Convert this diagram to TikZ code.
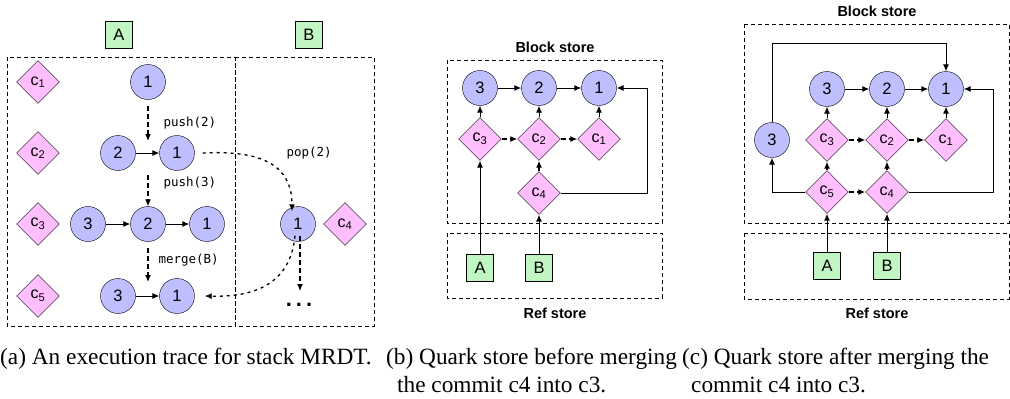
\documentclass[tikz,border=0pt]{standalone}
\usepackage{fontspec}
\setmainfont{Liberation Serif}
\setsansfont{Liberation Sans}
\setmonofont{DejaVu Sans Mono}
\usetikzlibrary{arrows.meta,shapes.geometric}
\definecolor{blockfill}{RGB}{191,191,255}
\definecolor{commitfill}{RGB}{255,191,255}
\definecolor{reffill}{RGB}{193,245,193}
\tikzset{
  blk/.style={circle,draw,fill=blockfill,minimum size=35pt,inner sep=0pt,
    font=\sffamily\fontsize{16.5}{16.5}\selectfont},
  cmt/.style={diamond,draw,fill=commitfill,minimum width=43pt,minimum height=43pt,
    inner sep=0pt,font=\sffamily\fontsize{16}{16}\selectfont},
  refbox/.style={rectangle,draw,fill=reffill,minimum size=27pt,inner sep=0pt,
    font=\sffamily\fontsize{16.5}{16.5}\selectfont},
  store/.style={draw,dash pattern=on 4pt off 3pt,line width=0.8pt},
  lnk/.style={-{Latex[length=7pt,width=6pt]},line width=1pt},
  dlnk/.style={lnk,dash pattern=on 5pt off 3pt,line width=1.2pt},
  trace/.style={lnk,dash pattern=on 3pt off 4pt,line width=1.3pt},
  oplabel/.style={font=\ttfamily\fontsize{12.5}{12.5}\selectfont,anchor=west},
  storetitle/.style={font=\sffamily\bfseries\fontsize{14.5}{14.5}\selectfont},
  capt/.style={font=\fontsize{23.3}{28}\selectfont,anchor=base west,align=left,inner sep=0pt},
}
\newcommand{\cm}[1]{c\textsubscript{#1}}

\begin{document}
\begin{tikzpicture}[x=1pt,y=-1pt]
  \useasboundingbox (0,0) rectangle (1010,399);

  % (a) execution trace
  \node[refbox] (aA) at (119,35) {A};
  \node[refbox] (aB) at (309,35) {B};
  \draw[store] (7,57) rectangle (235,326);
  \draw[store] (235,57) rectangle (374,326);
  \node[cmt] (ac1) at (38,82) {\cm{1}};
  \node[cmt] (ac2) at (38,153) {\cm{2}};
  \node[cmt] (ac3) at (38,224) {\cm{3}};
  \node[cmt] (ac5) at (38,296) {\cm{5}};
  \node[blk] (a11) at (148,82) {1};
  \node[blk] (a22) at (118,153) {2};
  \node[blk] (a21) at (177,153) {1};
  \node[blk] (a33) at (88,224) {3};
  \node[blk] (a32) at (148,224) {2};
  \node[blk] (a31) at (207,224) {1};
  \node[blk] (a43) at (118,296) {3};
  \node[blk] (a41) at (177,296) {1};
  \node[blk] (ab1) at (298,224) {1};
  \node[cmt] (abc4) at (345,224) {\cm{4}};
  \draw[lnk] (a22) -- (a21);
  \draw[lnk] (a33) -- (a32);
  \draw[lnk] (a32) -- (a31);
  \draw[lnk] (a43) -- (a41);
  \coordinate (p2s) at (148,106);
  \coordinate (p2e) at (148,141);
  \coordinate (p3s) at (148,175);
  \coordinate (mgs) at (148,248);
  \coordinate (mge) at (148,282);
  \draw[dlnk] (p2s) -- (p2e);
  \draw[dlnk] (p3s) -- (a32.north);
  \draw[dlnk] (mgs) -- (mge);
  \node[oplabel] (lp2) at (160,123) {push(2)};
  \node[oplabel] (lp3) at (160,183) {push(3)};
  \node[oplabel] (lmg) at (155,260) {merge(B)};
  \node[oplabel] (lpop) at (283,153) {pop(2)};
  \draw[trace] ([xshift=8pt]a21.east) .. controls (262,150) and (292,165) .. ([xshift=-6pt,yshift=-5pt]ab1.north);
  \draw[trace] ([xshift=-3pt,yshift=6pt]ab1.south) .. controls (290,290) and (245,297) .. ([xshift=10pt]a41.east);
  \coordinate (bend) at (300,291);
  \draw[dlnk] ([xshift=2pt,yshift=6pt]ab1.south) -- (bend);
  \node[anchor=base,font=\sffamily\bfseries\fontsize{22}{22}\selectfont] (dots) at (299,306) {.\hspace{4pt}.\hspace{4pt}.};

  % (b) before merging
  \node[storetitle] (bt) at (555,47) {Block store};
  \draw[store] (447,60) rectangle (662,223);
  \draw[store] (447,233) rectangle (662,298);
  \node[storetitle] (br) at (555,313) {Ref store};
  \node[blk] (b3) at (480,88) {3};
  \node[blk] (b2) at (539,88) {2};
  \node[blk] (b1) at (599,88) {1};
  \node[cmt] (bc3) at (480,139) {\cm{3}};
  \node[cmt] (bc2) at (539,139) {\cm{2}};
  \node[cmt] (bc1) at (599,139) {\cm{1}};
  \node[cmt] (bc4) at (539,193) {\cm{4}};
  \node[refbox] (bA) at (480,268) {A};
  \node[refbox] (bB) at (539,268) {B};
  \draw[lnk] (b3) -- (b2);
  \draw[lnk] (b2) -- (b1);
  \draw[lnk] (bc3) -- (b3);
  \draw[lnk] (bc2) -- (b2);
  \draw[lnk] (bc1) -- (b1);
  \draw[dlnk] (bc3) -- (bc2);
  \draw[dlnk] (bc2) -- (bc1);
  \draw[dlnk] (bc4) -- (bc2);
  \draw[lnk] (bA) -- (bc3);
  \draw[lnk] (bB) -- (bc4);
  \draw[lnk] (bc4.east) -- (647,193) |- (b1.east);

  % (c) after merging
  \node[storetitle] (ct) at (877,11) {Block store};
  \draw[store] (744,24) rectangle (1009,223);
  \draw[store] (744,233) rectangle (1009,299);
  \node[storetitle] (cr) at (877,313) {Ref store};
  \node[blk] (c3) at (827,89) {3};
  \node[blk] (c2) at (887,89) {2};
  \node[blk] (c1) at (946,89) {1};
  \node[blk] (cx3) at (772,140) {3};
  \node[cmt] (cc3) at (827,140) {\cm{3}};
  \node[cmt] (cc2) at (887,140) {\cm{2}};
  \node[cmt] (cc1) at (946,140) {\cm{1}};
  \node[cmt] (cc5) at (827,192) {\cm{5}};
  \node[cmt] (cc4) at (887,192) {\cm{4}};
  \node[refbox] (cA) at (827,266) {A};
  \node[refbox] (cB) at (887,266) {B};
  \draw[lnk] (c3) -- (c2);
  \draw[lnk] (c2) -- (c1);
  \draw[lnk] (cc3) -- (c3);
  \draw[lnk] (cc2) -- (c2);
  \draw[lnk] (cc1) -- (c1);
  \draw[dlnk] (cc3) -- (cc2);
  \draw[dlnk] (cc2) -- (cc1);
  \draw[dlnk] (cc5) -- (cc3);
  \draw[dlnk] (cc4) -- (cc2);
  \draw[dlnk] (cc5) -- (cc4);
  \draw[lnk] (cA) -- (cc5);
  \draw[lnk] (cB) -- (cc4);
  \coordinate (ctop) at (772,43);
  \draw[lnk] (cx3.north) -- (ctop) -| (c1.north);
  \draw[lnk] (cc5.west) -| (cx3.south);
  \draw[lnk] (cc4.east) -- (993,192) |- (c1.east);

  % captions
  \node[capt] (capa) at (0,364) {(a) An execution trace for stack MRDT.};
  \node[capt] (capb) at (386,392) {(b) Quark store before merging\\\hspace*{11pt}the commit c4 into c3.};
  \node[capt] (capc) at (682,392) {(c) Quark store after merging the\\\hspace*{9pt}commit c4 into c3.};
\end{tikzpicture}
\end{document}
